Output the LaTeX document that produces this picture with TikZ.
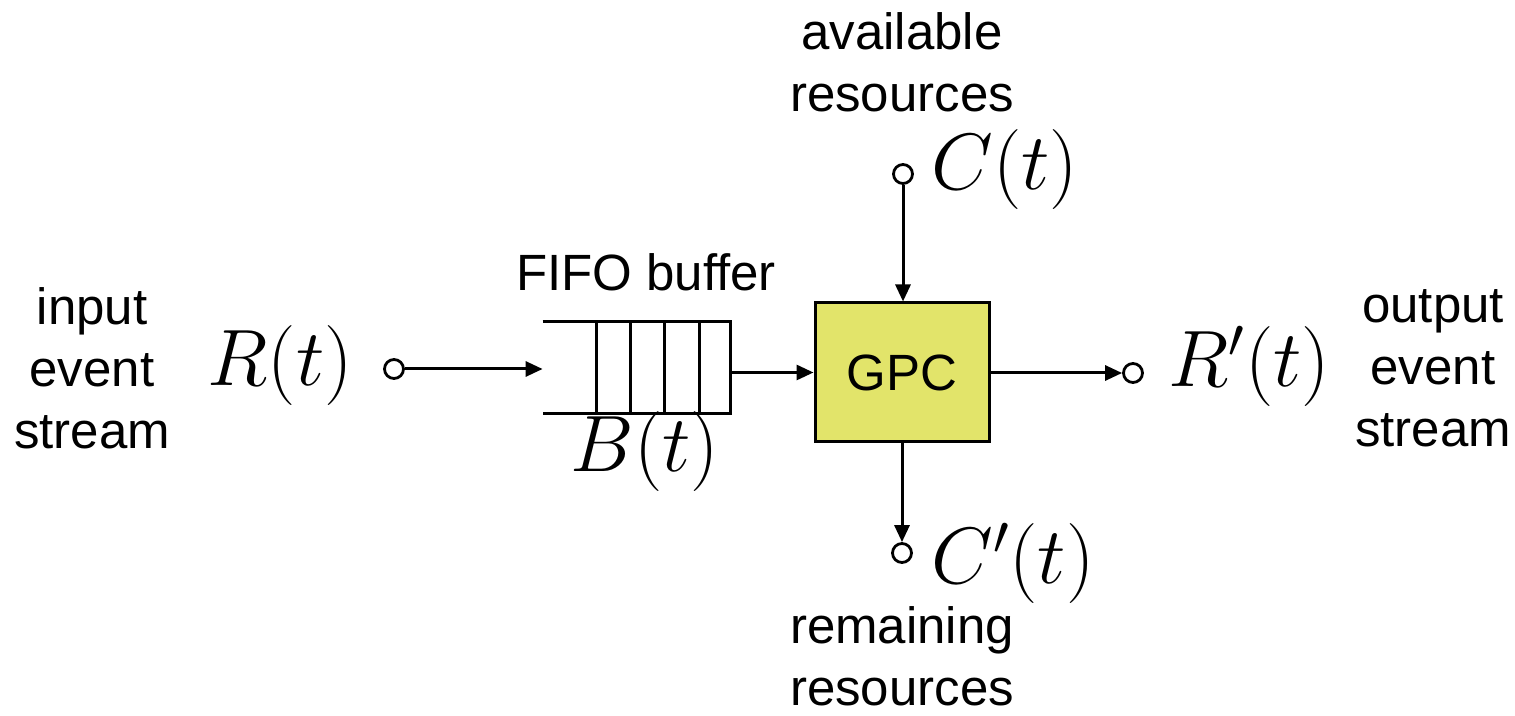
\RequirePackage{fix-cm}
\documentclass[tikz,border=0pt]{standalone}
\usepackage{fontspec}
\setmainfont{Liberation Sans}
\usetikzlibrary{arrows.meta}
\definecolor{gpcfill}{RGB}{226,228,106}
\tikzset{
  lbl/.style={font=\fontsize{25.5}{31}\selectfont, align=center, inner sep=0pt},
  mth/.style={font=\fontsize{40}{44}\selectfont, inner sep=0pt},
  port/.style={circle, draw, line width=1.4pt, fill=white, minimum size=9.5pt, inner sep=0pt},
  conn/.style={line width=1.5pt, -{Triangle[length=8.5pt,width=7.5pt]}},
  blk/.style={draw, line width=1.5pt, fill=gpcfill, minimum width=87pt, minimum height=69.5pt, font=\fontsize{25.5}{31}\selectfont}
}
\begin{document}
\begin{tikzpicture}[x=0.5pt,y=-0.5pt]
\useasboundingbox (0,0) rectangle (1515,716);
% input
\node[lbl] (inlbl) at (92,368) {input\\event\\stream};
\node[mth] (R) at (280,366) {$R(t)$};
\node[port] (in) at (394,369) {};
% buffer
\node[minimum width=93.5pt, minimum height=45.5pt, inner sep=0pt] (buf) at (636.5,367.5) {};
\draw[line width=1.5pt] (buf.north west) -- (buf.north east) -- (buf.south east) -- (buf.south west);
\foreach \x in {596,630,664,699} \draw[line width=1.5pt] (\x,322) -- (\x,413);
\node[lbl] (fifo) at (646,272) {FIFO buffer};
\node[mth] (B) at (645,452) {$B(t)$};
% GPC
\node[blk] (gpc) at (902,372.5) {GPC};
% top
\node[lbl] (avail) at (902,62) {available\\resources};
\node[port] (cin) at (903,174) {};
\node[mth, anchor=west] (C) at (931,170) {$C(t)$};
% bottom
\node[port] (cout) at (902,553) {};
\node[mth, anchor=west] (Cp) at (931,563) {$C'(t)$};
\node[lbl] (rem) at (902,656) {remaining\\resources};
% output
\node[port] (out) at (1133,373) {};
\node[mth, anchor=west] (Rp) at (1168,366) {$R'(t)$};
\node[lbl] (outlbl) at (1433,368) {output\\event\\stream};
% connectors
\draw[conn] (in) -- (in -| buf.west);
\draw[conn] (buf.east |- gpc.west) -- (gpc.west);
\draw[conn] (cin) -- (gpc.north -| cin);
\draw[conn] (gpc.south -| cout) -- (cout);
\draw[conn] (gpc.east |- out) -- (out);
\end{tikzpicture}
\end{document}
